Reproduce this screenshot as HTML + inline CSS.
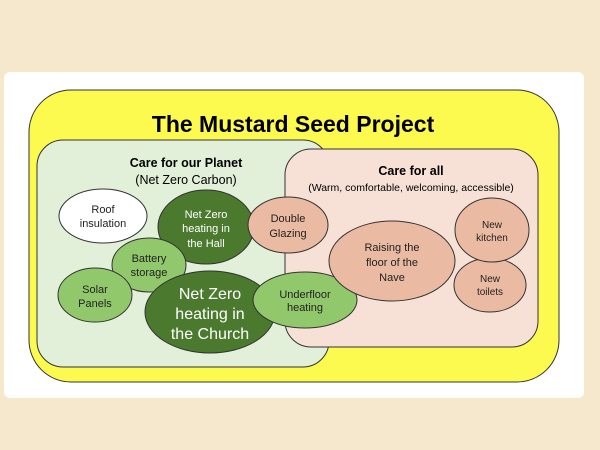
<!DOCTYPE html>
<html><head><meta charset="utf-8"><style>
html,body{margin:0;padding:0;background:#f5e8cd;width:600px;height:450px;overflow:hidden}
.card{position:absolute;left:4px;top:72px;width:580px;height:326px;background:#fff;border-radius:6px}
svg{position:absolute;left:0;top:0}
text{font-family:"Liberation Sans",sans-serif;text-anchor:middle}
</style></head><body>
<div class="card"></div>
<svg width="600" height="450" viewBox="0 0 600 450">
<rect x="29" y="90" width="530" height="292" rx="42" fill="#fcfa4e" stroke="#333" stroke-width="1"/>
<rect x="37" y="140" width="292" height="227" rx="26" fill="#e2efd9" stroke="#333" stroke-width="1"/>
<rect x="285" y="149" width="253" height="198" rx="26" fill="#f7e1d6" stroke="#333" stroke-width="1"/>
<text x="293" y="132" font-size="23" font-weight="bold" fill="#000">The Mustard Seed Project</text>
<text x="186" y="167" font-size="12.5" font-weight="bold">Care for our Planet</text>
<text x="186" y="184" font-size="12.5">(Net Zero Carbon)</text>
<text x="411" y="175" font-size="12.5" font-weight="bold">Care for all</text>
<text x="411" y="191" font-size="10.5">(Warm, comfortable, welcoming, accessible)</text>
<g stroke="#333" stroke-width="1">
<ellipse cx="103" cy="216" rx="44" ry="27" fill="#fff"/>
<ellipse cx="206" cy="227" rx="48" ry="37" fill="#4b7a2f"/>
<ellipse cx="288" cy="225" rx="40" ry="28" fill="#eabba2"/>
<ellipse cx="149" cy="265" rx="37" ry="27" fill="#92c86c"/>
<ellipse cx="95" cy="295" rx="37" ry="27" fill="#92c86c"/>
<ellipse cx="210" cy="312" rx="65" ry="41" fill="#4b7a2f"/>
<ellipse cx="305" cy="300" rx="52" ry="28" fill="#92c86c"/>
<ellipse cx="392" cy="261" rx="63" ry="40" fill="#eabba2"/>
<ellipse cx="490" cy="285" rx="36" ry="27" fill="#eabba2"/>
<ellipse cx="492" cy="230" rx="37" ry="32" fill="#eabba2"/>
</g>
<g font-size="11" fill="#222">
<text x="103" y="213">Roof</text><text x="103" y="227">insulation</text>
<text x="288" y="222">Double</text><text x="288" y="237">Glazing</text>
<text x="149" y="262">Battery</text><text x="149" y="276">storage</text>
<text x="95" y="293">Solar</text><text x="95" y="307">Panels</text>
<text x="305" y="298">Underfloor</text><text x="305" y="311">heating</text>
<text x="392" y="251">Raising the</text><text x="392" y="266">floor of the</text><text x="392" y="281">Nave</text>
<text x="492" y="228" font-size="10">New</text><text x="492" y="241" font-size="10">kitchen</text>
<text x="490" y="282" font-size="10">New</text><text x="490" y="295" font-size="10">toilets</text>
</g>
<g fill="#fff">
<text x="206" y="218" font-size="11">Net Zero</text><text x="206" y="232" font-size="11">heating in</text><text x="206" y="247" font-size="11">the Hall</text>
<text x="210" y="299" font-size="16">Net Zero</text><text x="210" y="319" font-size="16">heating in</text><text x="210" y="339" font-size="16">the Church</text>
</g>
</svg>
</body></html>
